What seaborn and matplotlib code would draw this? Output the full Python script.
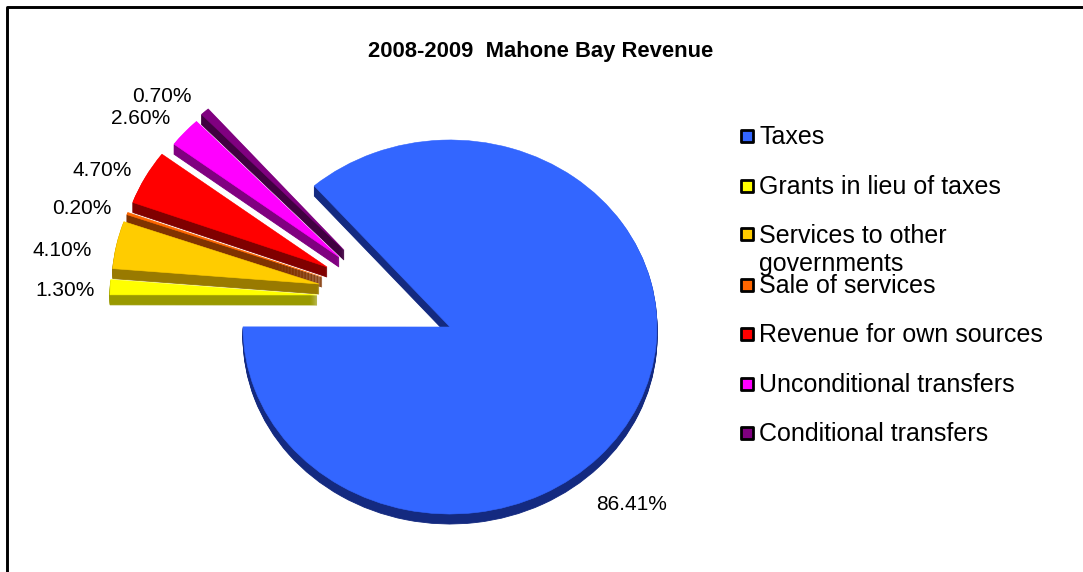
import matplotlib
matplotlib.use("Agg")
import matplotlib.pyplot as plt
from matplotlib.patches import Wedge
import seaborn as sns

sns.set_theme(style="white")
plt.rcParams['font.family'] = ['Liberation Sans', 'DejaVu Sans']

# data
categories = ['Taxes', 'Grants in lieu of taxes', 'Services to other\ngovernments', 'Sale of services',
              'Revenue for own sources', 'Unconditional transfers', 'Conditional transfers']
shares = [86.41, 1.30, 4.10, 0.20, 4.70, 2.60, 0.70]
pct_labels = ['86.41%', '1.30%', '4.10%', '0.20%', '4.70%', '2.60%', '0.70%']

# colours, top face and side face
top_colors = ['#3366FF', '#FFFF00', '#FFCC00', '#FF6600', '#FF0000', '#FF00FF', '#800080']
side_colors = ['#142A80', '#999900', '#997A00', '#803300', '#800000', '#800080', '#400040']

W, H = 1083, 572
RX, RY = 207, 187   # pie is squashed, pixels per unit
DEPTH = 10

# where each slice's apex sits once pulled out, in pixels
apex_x = [450, 317, 319, 322, 327, 339, 344]
apex_y = [327, 295, 284, 277, 267, 257, 250]
label_x = [632, 65, 62, 82, 102, 141, 162]
label_y = [504, 290, 250, 208, 171, 118, 96]
legend_y = [137, 187, 250, 286, 335, 385, 434]

fig = plt.figure(figsize=(W / 100, H / 100), dpi=100)
ax = fig.add_axes([0, 0, 1, 1])

wedges, _ = ax.pie(shares, startangle=131, counterclock=False, radius=1, colors=top_colors)

# upper slices first so the lower ones sit on their side faces
n = len(shares)
for i, w in enumerate(wedges):
    cy = (H - apex_y[i]) / RY
    order = 2 * (n - i)
    w.set_center((apex_x[i] / RX, cy))
    w.set_zorder(order + 1)
    w.set_edgecolor(top_colors[i])
    w.set_linewidth(0.4)
    for d in range(1, DEPTH + 1):
        ax.add_patch(Wedge((apex_x[i] / RX, cy - d / RY), 1, w.theta1, w.theta2,
                           color=side_colors[i], linewidth=0.6, zorder=order))

ax.set_aspect('auto')
ax.set_xlim(0, W / RX)
ax.set_ylim(0, H / RY)
ax.set_axis_off()

# overlay in picture pixels for frame and text
ov = fig.add_axes([0, 0, 1, 1], facecolor='none')
ov.set_xlim(0, W)
ov.set_ylim(H, 0)
ov.set_axis_off()

ov.plot([7, 7, W], [H, 7, 7], color='black', lw=2.1, clip_on=False)
ov.text(541, 51.5, '2008-2009  Mahone Bay Revenue', ha='center', va='center',
        fontsize=15.8, fontweight='bold', color='black')

for pct, x, y in zip(pct_labels, label_x, label_y):
    ov.text(x, y, pct, ha='center', va='center', fontsize=15, color='black')

for name, c, y in zip(categories, top_colors, legend_y):
    yy = y - 1 if '\n' not in name else 234
    ov.scatter([747], [yy], marker='s', s=70, color=c, edgecolor='black', linewidth=2, zorder=3)
    ov.text(759, y, name, ha='left', va='center', fontsize=18, color='black', linespacing=1.22)

fig.savefig('out.png', dpi=100, facecolor='white')
